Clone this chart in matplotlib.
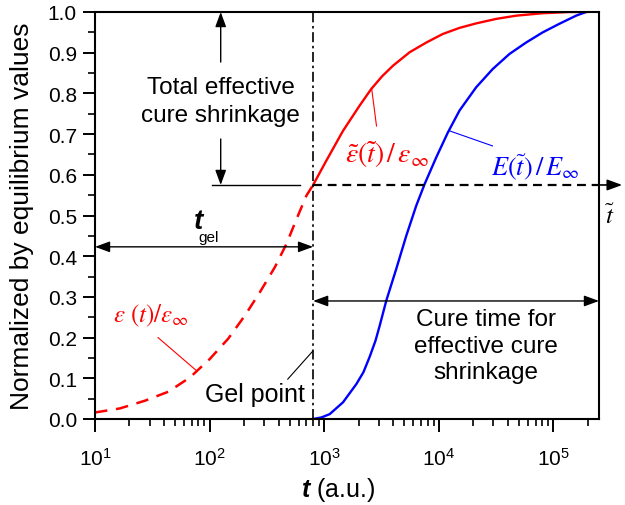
import numpy as np
import matplotlib
matplotlib.use('Agg')
import matplotlib.pyplot as plt
import matplotlib.transforms as mtransforms
from matplotlib.ticker import MultipleLocator, FormatStrFormatter, FixedLocator

plt.rcParams['font.family'] = ['Liberation Sans', 'DejaVu Sans']
plt.rcParams['mathtext.fontset'] = 'custom'
plt.rcParams['mathtext.rm'] = 'Liberation Sans'
plt.rcParams['mathtext.it'] = 'Liberation Sans:italic'
plt.rcParams['mathtext.bf'] = 'Liberation Sans:bold'
plt.rcParams['mathtext.bfit'] = 'Liberation Sans:italic:bold'

# ---------------- data ----------------
# strain before gelation  eps(t)/eps_inf
t_pre = [10, 16.5, 27.3, 43.6, 67.3, 100, 145, 203, 274, 371, 468, 573, 700, 800]
eps_pre = [0.016, 0.026, 0.045, 0.067, 0.102, 0.147, 0.197, 0.254, 0.311, 0.373,
           0.430, 0.491, 0.549, 0.575]

# effective strain after gelation  eps~(t~)/eps_inf
t_post = [800, 1045, 1459, 2037, 2576, 3200, 3981, 5559, 7780, 10840, 15170, 21180,
          31620, 47320, 80720, 138000, 195000]
eps_post = [0.575, 0.635, 0.708, 0.770, 0.811, 0.842, 0.868, 0.901, 0.925, 0.946, 0.961,
            0.972, 0.983, 0.991, 0.997, 1.000, 1.000]

# modulus  E(t~)/E_inf
t_mod = [800, 950, 1117, 1459, 1910, 2200, 2495, 2800, 3048, 3483, 4256, 5200, 6353,
         7516, 9506, 12000, 15170, 21180, 29580, 41400, 57800, 80720, 112700, 157800,
         192800]
mod = [0.0, 0.004, 0.012, 0.041, 0.086, 0.115, 0.153, 0.192, 0.229, 0.291, 0.369,
       0.450, 0.524, 0.577, 0.643, 0.704, 0.758, 0.815, 0.860, 0.897, 0.925, 0.950,
       0.971, 0.991, 1.000]

t_gel = 800
eps_gel = 0.575
x_lim = (10, 2.5e5)
x_ticks = [10, 100, 1000, 10000, 100000]
y_ticks = [0.0, 0.1, 0.2, 0.3, 0.4, 0.5, 0.6, 0.7, 0.8, 0.9, 1.0]

# ---------------- figure ----------------
fig = plt.figure(figsize=(6.25, 5.06), dpi=100)
ax = fig.add_axes([95 / 625, 86 / 506, 504 / 625, 407 / 506])
ax.set_xscale('log')
ax.set_xlim(*x_lim)
ax.set_ylim(0, 1.0)

# curves
ax.plot(t_pre, eps_pre, color='red', lw=1.8, ls=(0, (5, 3.5)))
ax.plot(t_post, eps_post, color='red', lw=1.7, solid_joinstyle='round')
ax.plot(t_mod, mod, color='blue', lw=1.7, solid_joinstyle='round')

# gel line and horizontal dashed line
ax.axvline(t_gel, color='black', lw=1.2, ls=(0, (6, 2.2, 1.5, 2.2)))
ax.plot([t_gel, x_lim[1]], [eps_gel, eps_gel], color='black', lw=1.6, ls=(0, (4, 2.6)))

blend = mtransforms.blended_transform_factory(ax.transAxes, ax.transData)
head = '-|>,head_length=0.6,head_width=0.22'
dhead = '<|-|>,head_length=0.6,head_width=0.22'
ap = dict(arrowstyle=head, color='black', lw=1.2, mutation_scale=15, shrinkA=0, shrinkB=0)
dap = dict(arrowstyle=dhead, color='black', lw=1.0, mutation_scale=15, shrinkA=0, shrinkB=0)

ax.annotate('', xy=(1.046, eps_gel), xycoords=blend, xytext=(1.0, eps_gel),
            textcoords=blend, arrowprops=ap, annotation_clip=False)
ax.text(1.022, 0.50, r'$\tilde{t}$', transform=blend, math_fontfamily='stix',
        fontsize=18, ha='center', va='center')

# total effective cure shrinkage
x_arr = 125
ax.annotate('', xy=(x_arr, 1.0), xytext=(x_arr, 0.877), arrowprops=dict(ap, lw=1.0))
ax.annotate('', xy=(x_arr, eps_gel), xytext=(x_arr, 0.688), arrowprops=dict(ap, lw=1.0))
ax.plot([105, 612], [eps_gel, eps_gel], color='black', lw=1.0)
ax.text(x_arr, 0.781, 'Total effective\ncure shrinkage', ha='center', va='center',
        fontsize=17.5, linespacing=1.37)

# t_gel arrow
ax.annotate('', xy=(x_lim[0], 0.423), xytext=(t_gel, 0.423), arrowprops=dap,
            annotation_clip=False)
ax.text(80.5, 0.486, 't', ha='center', va='center', fontsize=20,
        fontstyle='italic', fontweight='bold')
ax.text(97, 0.447, 'gel', ha='center', va='center', fontsize=11)

# cure time arrow
ax.annotate('', xy=(t_gel, 0.29), xytext=(x_lim[1], 0.29), arrowprops=dap,
            annotation_clip=False)
ax.text(25700, 0.18, 'Cure time for\neffective cure\nshrinkage', ha='center',
        va='center', fontsize=17.5, linespacing=1.25)

# gel point
ax.text(250, 0.062, 'Gel point', ha='center', va='center', fontsize=18)
ax.plot([481, 796], [0.098, 0.167], color='black', lw=0.8)

# curve labels
ax.text(31, 0.255, r'$\varepsilon\ (t)/\varepsilon_\infty$', color='red',
        math_fontfamily='stix', fontsize=18, ha='center', va='center')
ax.plot([35.5, 77.4], [0.20, 0.118], color='red', lw=0.8)

ax.text(3550, 0.652, r'$\tilde{\varepsilon}\left(\tilde{t}\right)\,/\,\varepsilon_\infty$',
        color='red', math_fontfamily='stix', fontsize=20, ha='center', va='center')
ax.plot([2860, 2600], [0.72, 0.81], color='red', lw=0.8)

ax.text(69700, 0.622, r'$E\left(\tilde{t}\right)\,/\,E_\infty$', color='blue',
        math_fontfamily='stix', fontsize=19, ha='center', va='center')
ax.plot([29400, 12400], [0.671, 0.708], color='blue', lw=0.8)

# axes styling
for s in ax.spines.values():
    s.set_linewidth(1.5)
ax.xaxis.set_major_locator(FixedLocator(x_ticks))
ax.yaxis.set_major_locator(FixedLocator(y_ticks))
ax.yaxis.set_minor_locator(MultipleLocator(0.05))
ax.yaxis.set_major_formatter(FormatStrFormatter('%.1f'))
ax.tick_params(which='major', direction='out', length=9, width=1.4, labelsize=15,
               top=False, right=False)
ax.tick_params(which='minor', direction='out', length=5, width=1.2, top=False, right=False)
ax.tick_params(axis='x', which='major', pad=11)
ax.tick_params(axis='y', which='major', pad=4)

ax.set_xlabel(r'$\mathbfit{t}$ (a.u.)', fontsize=18)
ax.xaxis.set_label_coords((338 - 95) / 504, (420 - 490) / 407)
ax.xaxis.label.set_va('center')
ax.set_ylabel('Normalized by equilibrium values', fontsize=19)
ax.yaxis.set_label_coords((22 - 95) / 504, 0.5)
ax.yaxis.label.set_va('center')

fig.savefig('out.png', dpi=100)
